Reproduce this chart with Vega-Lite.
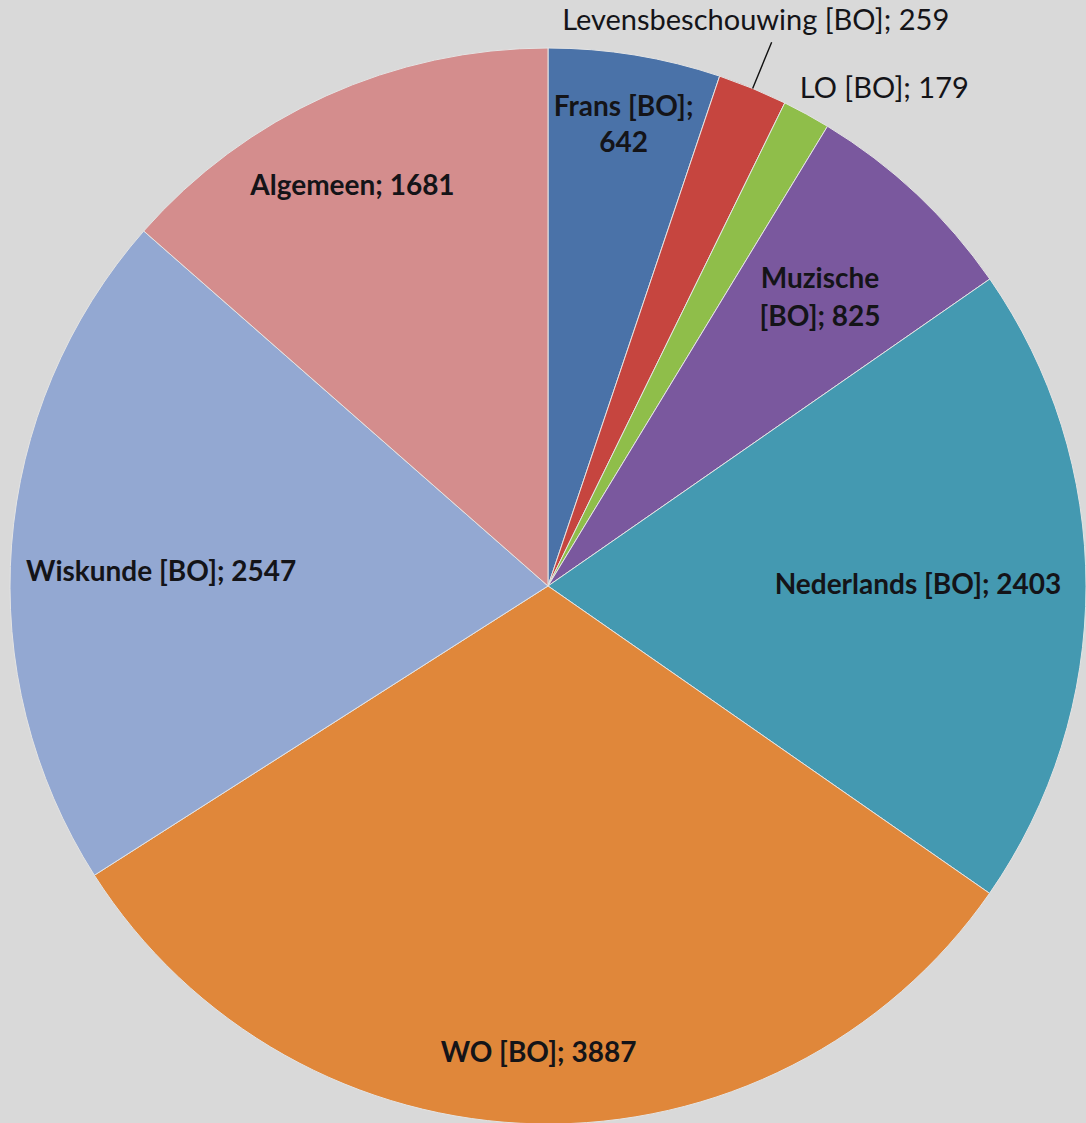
{
  "$schema": "https://vega.github.io/schema/vega-lite/v6.json",
  "width": 1076,
  "height": 1074,
  "autosize": {"type": "none"},
  "padding": {"left": 10, "top": 49, "right": 0, "bottom": 0},
  "background": "#D9D9D9",
  "view": {"stroke": null},
  "data": {
    "values": [
      {"idx": 1, "name": "Frans [BO]", "value": 642, "label": "Frans [BO];\n642"},
      {"idx": 2, "name": "Levensbeschouwing [BO]", "value": 259, "label": "Levensbeschouwing [BO]; 259"},
      {"idx": 3, "name": "LO [BO]", "value": 179, "label": "LO [BO]; 179"},
      {"idx": 4, "name": "Muzische [BO]", "value": 825, "label": "Muzische\n[BO]; 825"},
      {"idx": 5, "name": "Nederlands [BO]", "value": 2403, "label": "Nederlands [BO]; 2403"},
      {"idx": 6, "name": "WO [BO]", "value": 3887, "label": "WO [BO]; 3887"},
      {"idx": 7, "name": "Wiskunde [BO]", "value": 2547, "label": "Wiskunde [BO]; 2547"},
      {"idx": 8, "name": "Algemeen", "value": 1681, "label": "Algemeen; 1681"}
    ]
  },
  "encoding": {
    "theta": {"field": "value", "type": "quantitative", "stack": true},
    "order": {"field": "idx", "type": "quantitative", "sort": "ascending"}
  },
  "layer": [
    {
      "mark": {"type": "arc", "outerRadius": 538, "stroke": "#E4E4E4", "strokeWidth": 1},
      "encoding": {
        "color": {
          "field": "name",
          "type": "nominal",
          "legend": null,
          "scale": {
            "domain": ["Frans [BO]", "Levensbeschouwing [BO]", "LO [BO]", "Muzische [BO]", "Nederlands [BO]", "WO [BO]", "Wiskunde [BO]", "Algemeen"],
            "range": ["#4A72A8", "#C6453F", "#8FBE4A", "#7A589E", "#4499B1", "#E0873A", "#93A8D2", "#D48D8D"]
          }
        }
      }
    },
    {
      "mark": {"type": "arc", "outerRadius": 588, "innerRadius": 538, "padAngle": 0.6, "fill": "transparent", "stroke": "#111111", "strokeWidth": 1.4},
      "encoding": {
        "detail": {"field": "name"},
        "strokeOpacity": {"condition": {"test": "datum.name === 'Levensbeschouwing [BO]'", "value": 1}, "value": 0}
      }
    },
    {
      "mark": {"type": "text", "radius": 376, "dx": -6, "font": "Lato", "fontWeight": "bold", "fontSize": 28, "fill": "#141418", "lineBreak": "\n", "lineHeight": 37},
      "encoding": {
        "detail": {"field": "name"},
        "text": {"condition": {"test": "datum.name === 'Nederlands [BO]'", "field": "label"}, "value": ""}
      }
    },
    {
      "mark": {"type": "text", "radius": 397, "dy": -17, "font": "Lato", "fontWeight": "bold", "fontSize": 28, "fill": "#141418", "lineBreak": "\n", "lineHeight": 38},
      "encoding": {
        "detail": {"field": "name"},
        "text": {"condition": {"test": "datum.name === 'Muzische [BO]'", "field": "label"}, "value": ""}
      }
    },
    {
      "mark": {"type": "text", "radius": 387, "thetaOffset": -0.044, "font": "Lato", "fontWeight": "bold", "fontSize": 28, "fill": "#141418", "lineBreak": "\n", "lineHeight": 37},
      "encoding": {
        "detail": {"field": "name"},
        "text": {"condition": {"test": "datum.name === 'Wiskunde [BO]'", "field": "label"}, "value": ""}
      }
    },
    {
      "mark": {"type": "text", "radius": 444, "thetaOffset": -0.031, "font": "Lato", "fontWeight": "bold", "fontSize": 28, "fill": "#141418", "lineBreak": "\n", "lineHeight": 37},
      "encoding": {
        "detail": {"field": "name"},
        "text": {"condition": {"test": "datum.name === 'Algemeen'", "field": "label"}, "value": ""}
      }
    },
    {
      "mark": {"type": "text", "radius": 468, "dy": -16, "font": "Lato", "fontWeight": "bold", "fontSize": 28, "fill": "#141418", "lineBreak": "\n", "lineHeight": 36},
      "encoding": {
        "detail": {"field": "name"},
        "text": {"condition": {"test": "datum.name === 'Frans [BO]'", "field": "label"}, "value": ""}
      }
    },
    {
      "mark": {"type": "text", "radius": 468, "font": "Lato", "fontWeight": "bold", "fontSize": 28, "fill": "#141418"},
      "encoding": {
        "detail": {"field": "name"},
        "text": {"condition": {"test": "datum.name === 'WO [BO]'", "field": "label"}, "value": ""}
      }
    },
    {
      "mark": {"type": "text", "radius": 602, "thetaOffset": -0.038, "font": "Lato", "fontSize": 29, "fill": "#141418"},
      "encoding": {
        "detail": {"field": "name"},
        "text": {"condition": {"test": "datum.name === 'Levensbeschouwing [BO]'", "field": "label"}, "value": ""}
      }
    },
    {
      "mark": {"type": "text", "radius": 600, "thetaOffset": 0.094, "font": "Lato", "fontSize": 29, "fill": "#141418"},
      "encoding": {
        "detail": {"field": "name"},
        "text": {"condition": {"test": "datum.name === 'LO [BO]'", "field": "label"}, "value": ""}
      }
    }
  ]
}
